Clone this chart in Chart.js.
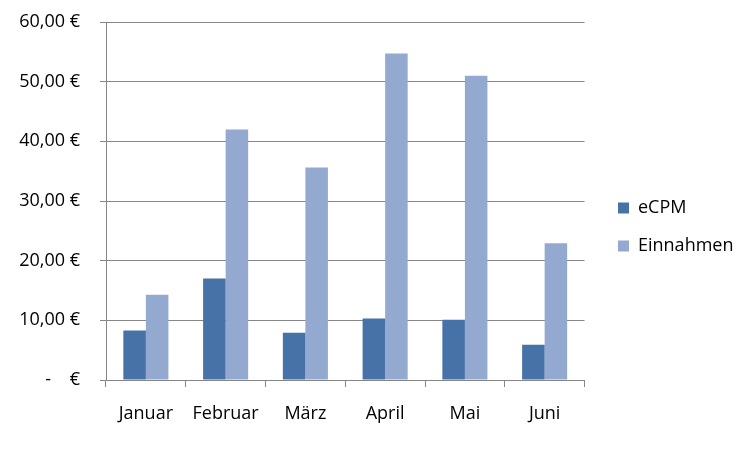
<!DOCTYPE html>
<html>
<head>
<meta charset="utf-8">
<script src="https://cdn.jsdelivr.net/npm/chart.js@4"></script>
<style>
html,body{margin:0;padding:0;background:#fff;}
#wrap{width:752px;height:452px;}
</style>
</head>
<body>
<div id="wrap"><canvas id="c" width="752" height="452"></canvas></div>
<script>
const categories = ['Januar', 'Februar', 'März', 'April', 'Mai', 'Juni'];
const ecpm = [8.3, 17.0, 7.9, 10.3, 10.1, 5.9];
const einnahmen = [14.3, 42.0, 35.6, 54.7, 51.0, 22.9];
const yTicks = [0, 10, 20, 30, 40, 50, 60];

const FONT = { family: '"Open Sans", "Noto Sans", sans-serif', size: 18 };
const GRID = '#868686';

const legendPlace = {
  id: 'legendPlace',
  afterLayout(chart) {
    const lg = chart.legend;
    if (!lg) return;
    const dx = 598 - lg.left;
    lg.left += dx; lg.right += dx;
    lg.top -= 10; lg.bottom -= 10;
  }
};

new Chart(document.getElementById('c'), {
  type: 'bar',
  data: {
    labels: categories,
    datasets: [
      { label: 'eCPM', data: ecpm, backgroundColor: '#4672A8', borderWidth: 0 },
      { label: 'Einnahmen', data: einnahmen, backgroundColor: '#94A9CF', borderWidth: 0 }
    ]
  },
  options: {
    responsive: false,
    animation: false,
    devicePixelRatio: 1,
    layout: { padding: { top: 22, right: 22, left: 0, bottom: 0 } },
    datasets: { bar: { categoryPercentage: 0.565, barPercentage: 1.0 } },
    plugins: {
      tooltip: { enabled: false },
      legend: {
        position: 'right',
        align: 'center',
        labels: {
          boxWidth: 11, boxHeight: 11, padding: 20,
          color: '#000', font: FONT
        }
      }
    },
    scales: {
      x: {
        grid: { offset: true, drawOnChartArea: false, color: GRID, tickLength: 7, tickColor: GRID },
        border: { color: GRID, width: 1 },
        ticks: { color: '#000', font: FONT, padding: 16, maxRotation: 0 },
        afterFit(s) { s.height = 72; }
      },
      y: {
        min: 0, max: 60,
        afterBuildTicks(s) { s.ticks = yTicks.map(v => ({ value: v })); },
        grid: { color: GRID, tickLength: 6, tickColor: GRID },
        border: { color: GRID, width: 1 },
        ticks: {
          color: '#000', font: FONT, padding: 20,
          callback: v => v === 0 ? '-\u00a0\u00a0\u00a0\u00a0€' : v.toFixed(2).replace('.', ',') + '\u00a0€'
        },
        afterFit(s) { s.width = 106; s.paddingTop = 0; s.paddingBottom = 0; }
      }
    }
  },
  plugins: [legendPlace]
});
</script>
</body>
</html>
